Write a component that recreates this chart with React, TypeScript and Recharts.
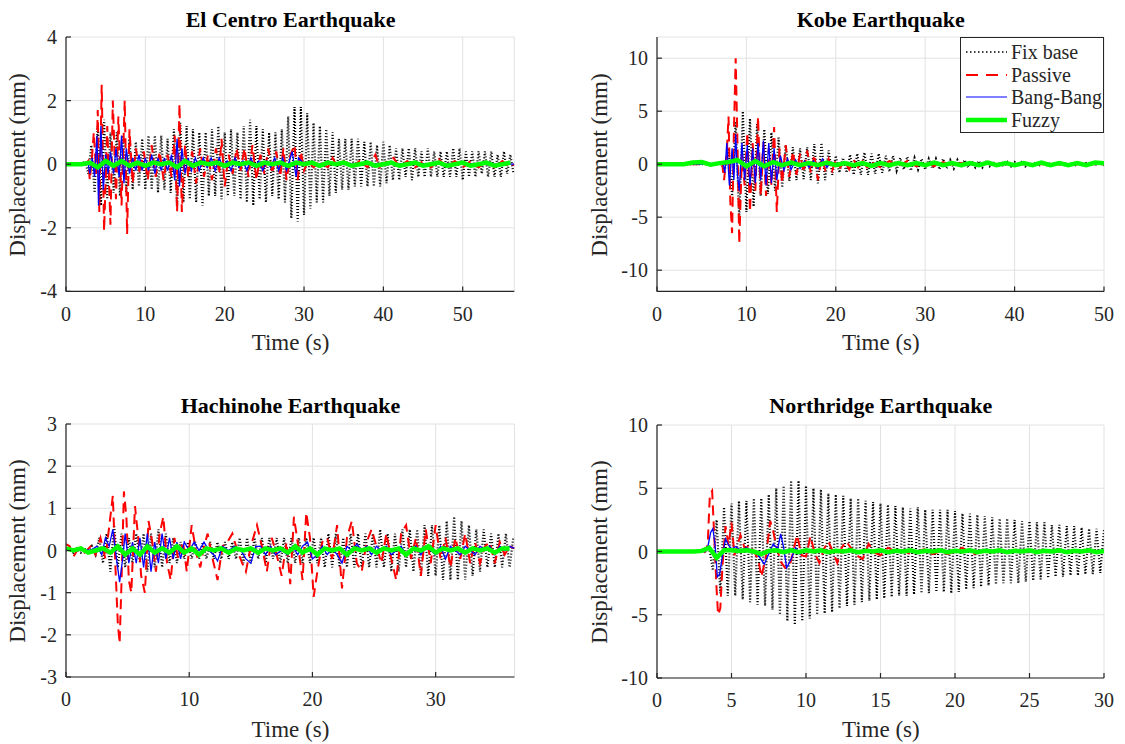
import { LineChart, Line, XAxis, YAxis, CartesianGrid } from 'recharts';

const FONT = '"Liberation Serif", "Times New Roman", Times, serif';
const AXIS = '#262626';
const GRID = '#e2e2e2';

type Pair = [number, number];
type Pt = { t: number; v: number };

// ---------- El Centro ----------
const elCentroXTicks = [0, 10, 20, 30, 40, 50];
const elCentroYTicks = [-4, -2, 0, 2, 4];
const elCentroDt = 0.4;
const elCentroFixBase = [
  0, 0, 0, 0, 0, 0, 0.1, -0.3, 0.6, -0.9,
  1.2, -1.3, 1.4, -1.1, 1.0, -0.9, 1.0, -1.0, 0.9, -0.9,
  0.8, -0.8, 0.7, -0.7, 0.8, -0.8, 0.9, -0.8, 0.9, -0.9,
  0.9, -0.8, 0.8, -0.9, 1.1, -1.3, 1.3, -1.2, 1.2, -1.1,
  1.1, -1.2, 1.0, -1.3, 1.0, -1.0, 1.1, -1.0, 1.2, -1.1,
  1.0, -1.0, 1.1, -1.0, 1.0, -1.1, 1.2, -1.2, 1.4, -1.3,
  1.2, -1.1, 1.1, -1.2, 1.0, -1.0, 1.0, -1.1, 1.1, -1.2,
  1.5, -1.7, 1.8, -1.8, 1.8, -1.6, 1.6, -1.4, 1.3, -1.2,
  1.2, -1.2, 1.1, -1.0, 1.0, -0.9, 0.8, -0.8, 0.8, -0.8,
  0.8, -0.7, 0.8, -0.7, 0.7, -0.7, 0.7, -0.7, 0.6, -0.7,
  0.7, -0.6, 0.6, -0.5, 0.5, -0.5, 0.5, -0.4, 0.5, -0.5,
  0.5, -0.4, 0.4, -0.4, 0.5, -0.4, 0.4, -0.4, 0.4, -0.4,
  0.4, -0.4, 0.5, -0.4, 0.5, -0.5, 0.4, -0.4, 0.4, -0.4,
  0.4, -0.3, 0.4, -0.4, 0.4, -0.4, 0.3, -0.4, 0.4, -0.3,
  0.3, -0.3,
];
const elCentroPassive: Pair[] = [
  [0, 0], [2.5, 0], [2.8, 0.1], [3.0, -0.5], [3.3, 0.3], [3.5, 1.0], [3.8, -0.3], [4.0, 1.7],
  [4.2, -1.5], [4.5, 2.5], [4.8, -2.1], [5.0, -0.5], [5.2, 1.2], [5.6, -1.9], [5.9, 2.0],
  [6.3, -1.1], [6.6, 1.5], [7.0, -1.3], [7.4, 2.0], [7.7, -2.2], [8.0, 1.1], [8.4, -0.6],
  [8.8, 0.5], [9.3, -0.3], [9.8, 0.4], [10.3, -0.5], [10.8, 0.6], [11.3, -0.4], [11.8, 0.4],
  [12.3, -0.5], [12.8, 0.3], [13.3, -0.4], [13.7, 0.9], [14.0, -1.5], [14.3, 1.9], [14.6, -1.5],
  [15.0, 0.6], [15.4, -0.4], [15.9, 0.4], [16.4, -0.6], [16.9, 0.5], [17.4, -0.4], [17.9, 0.3],
  [18.4, -0.5], [18.9, 0.5], [19.3, -0.3], [19.6, 0.8], [20.0, -0.7], [20.5, 0.3], [21.0, -0.3],
  [21.5, 0.5], [22.0, -0.2], [22.5, 0.5], [23.0, -0.4], [23.5, 0.6], [24.0, -0.5], [24.5, 0.3],
  [25.0, -0.3], [25.5, 0.5], [26.0, -0.3], [26.5, 0.4], [27.0, -0.4], [27.4, 0.5], [27.8, -0.5],
  [28.3, 0.3], [28.8, 0.6], [29.2, -0.5], [29.6, 0.4], [30.0, -0.2], [30.5, 0.1], [31.2, -0.1],
  [32, 0.1], [33, -0.1], [33.6, 0.2], [34.2, -0.1], [35, 0.1], [36, -0.1], [37, 0.1], [38, -0.1],
  [39, 0.3], [39.5, -0.1], [40.5, 0.1], [41.3, 0.2], [42, -0.1], [43, 0.1], [44, -0.1], [45, 0.1],
  [46, -0.1], [47, 0.15], [48, -0.1], [49, 0.1], [50, -0.1], [51, 0.1], [52, -0.1], [53, 0.1],
  [54, -0.1], [55, 0.1], [56, -0.1], [56.5, 0],
];
const elCentroBangBang: Pair[] = [
  [0, 0], [2.8, 0], [3.0, -0.3], [3.3, 0.2], [3.6, -0.4], [3.9, 0.9], [4.1, -1.3], [4.4, 1.2],
  [4.7, -0.8], [5.0, 0.3], [5.3, -0.3], [5.6, 0.4], [6.0, -0.3], [6.3, 0.5], [6.7, -0.4], [7.0, 0.9],
  [7.3, -0.6], [7.6, 0.5], [8.0, -0.3], [8.4, 0.2], [8.8, -0.2], [9.2, 0.3], [9.6, -0.2], [10.0, 0.2],
  [10.4, -0.2], [10.8, 0.3], [11.2, -0.3], [11.6, 0.2], [12.0, -0.2], [12.4, 0.2], [12.8, -0.2],
  [13.3, 0.3], [13.7, -0.5], [14.0, 0.8], [14.3, -0.7], [14.6, 0.5], [15.0, -0.3], [15.4, 0.2],
  [15.8, -0.2], [16.3, 0.2], [16.8, -0.2], [17.3, 0.2], [17.8, -0.1], [18.3, 0.2], [18.8, -0.2],
  [19.3, 0.2], [19.8, -0.1], [20.3, 0.1], [20.8, -0.2], [21.3, 0.2], [21.8, -0.1], [22.3, 0.1],
  [22.8, -0.2], [23.3, 0.2], [23.8, -0.1], [24.3, 0.1], [24.8, -0.2], [25.3, 0.1], [25.8, -0.1],
  [26.3, 0.2], [26.8, -0.2], [27.3, 0.2], [27.8, -0.2], [28.5, 0.4], [29.0, -0.4], [29.3, 0.2],
  [30, 0], [31, 0.05], [32, 0], [56.5, 0],
];
const elCentroFuzzyDt = 1;
const elCentroFuzzy = [
  0, 0, 0, 0.05, -0.1, 0.1, -0.05, 0.1, -0.05, 0.05,
  -0.05, 0.05, 0, 0.05, -0.1, 0.1, -0.05, 0.05, 0, 0.05,
  -0.05, 0.05, 0, 0.05, -0.05, 0.05, 0, 0.05, -0.05, 0.05,
  0, 0.05, -0.05, 0.05, 0, 0.05, -0.05, 0, 0.05, -0.05,
  0, 0.05, -0.05, 0, 0.05, -0.05, 0, 0.05, -0.05, 0,
  0.05, -0.05, 0, 0.05, -0.05, 0, 0.05,
];

// ---------- Kobe ----------
const kobeXTicks = [0, 10, 20, 30, 40, 50];
const kobeYTicks = [-10, -5, 0, 5, 10];
const kobeDt = 0.4;
const kobeFixBase = [
  0, 0, 0, 0, 0, 0, 0, 0, 0, 0, 0, 0, 0, 0, 0, 0, 0, 0, 0,
  -0.5, 1.5, -3.0, 4.0, -5.3, 5.0, -4.5, 4.3, -4.0, 3.8,
  -3.0, 3.3, -2.8, 3.0, -2.5, 2.5, -2.2, 1.8, -1.6, 1.6,
  -1.5, 1.5, -1.4, 1.6, -1.5, 1.9, -1.8, 2.0, -1.5, 1.3,
  -1.0, 0.8, -0.8, 0.6, -0.8, 0.9, -1.0, 1.0, -1.0, 1.1,
  -1.0, 1.0, -0.9, 1.0, -0.8, 0.8, -0.7, 0.8, -0.6, 0.6,
  -0.5, 0.7, -0.6, 0.6, -0.5, 0.5, -0.5, 0.5, -0.4, 0.5,
  -0.5, 0.5, -0.4, 0.4, -0.4, 0.4, -0.3, 0.4, -0.3, 0.3,
  -0.3, 0.3, -0.3, 0.2, -0.2, 0.2, -0.2, 0.2, -0.2, 0.2,
  -0.2, 0.2, -0.1, 0.2, -0.2, 0.1, -0.1, 0.2, -0.1, 0.1,
  -0.1, 0.1, -0.1, 0.1, -0.1, 0.1, -0.1, 0.1, -0.1, 0.1,
  -0.1, 0.1, -0.1, 0.1, -0.1, 0.1, -0.1,
];
const kobePassive: Pair[] = [
  [0, 0], [7.3, 0], [7.5, -1.5], [7.8, 1.0], [8.0, 4.5], [8.2, -3.5], [8.4, -6.5], [8.6, 3.0],
  [8.8, 10.0], [9.0, 2.0], [9.2, -7.5], [9.5, 1.0], [9.8, -2.0], [10.1, 3.0], [10.4, -4.5],
  [10.7, 2.0], [11.0, -2.5], [11.3, 4.5], [11.6, -3.0], [11.9, 2.0], [12.2, -3.0], [12.5, 1.5],
  [12.8, -2.0], [13.1, 3.5], [13.4, -4.5], [13.7, 1.5], [14.0, -1.8], [14.4, 1.8], [14.8, -1.2],
  [15.2, 1.2], [15.6, -1.0], [16.0, 1.0], [16.4, -0.8], [16.8, 1.3], [17.2, -0.8], [17.6, 0.9],
  [18.0, -1.5], [18.4, 0.6], [18.8, -0.5], [19.2, 0.5], [19.6, -0.6], [20.0, 0.4], [20.5, -0.3],
  [21.0, 0.3], [21.5, -0.5], [22.0, 0.4], [22.5, -0.3], [23.0, 0.3], [23.5, -0.3], [24.0, 0.2],
  [25, -0.3], [26, 0.3], [27, -0.2], [28, 0.3], [29, -0.2], [30, 0.2], [31, -0.2], [32, 0.2],
  [33, -0.1], [34, 0.1], [35, 0], [50, 0],
];
const kobeBangBang: Pair[] = [
  [0, 0], [7.4, 0], [7.6, -0.8], [7.8, 2.0], [8.1, -2.0], [8.4, 1.5], [8.6, -1.5], [8.8, 2.8],
  [9.0, -1.0], [9.2, -2.5], [9.5, 2.0], [9.8, -1.5], [10.1, 1.8], [10.4, -2.0], [10.7, 1.5],
  [11.0, -1.8], [11.3, 2.0], [11.6, -1.5], [11.9, 2.2], [12.2, -2.0], [12.5, 2.0], [12.8, -1.8],
  [13.1, 1.5], [13.4, -1.5], [13.8, 0.8], [14.2, -0.6], [14.6, 0.5], [15.0, -0.5], [15.5, 0.4],
  [16, -0.4], [16.5, 0.3], [17, -0.3], [17.5, 0.3], [18, -0.4], [18.5, 0.5], [19, -0.3],
  [19.5, 0.2], [20, 0], [50, 0],
];
const kobeFuzzyDt = 1;
const kobeFuzzy = [
  0, 0, 0, 0, 0.15, 0.2, -0.05, 0.1, 0.2, 0.4,
  -0.2, 0.3, -0.2, 0.2, -0.1, 0.15, -0.1, 0.1, -0.1, 0.15,
  -0.1, 0.1, -0.1, 0.1, -0.15, 0.1, -0.1, 0.1, -0.1, 0.1,
  -0.1, 0.15, -0.1, 0.1, -0.1, 0.1, -0.1, 0.15, -0.1, 0.1,
  -0.1, 0.1, -0.1, 0.15, -0.1, 0.1, -0.1, 0.1, -0.1, 0.15,
  0.1,
];

// ---------- Hachinohe ----------
const hachinoheXTicks = [0, 10, 20, 30];
const hachinoheYTicks = [-3, -2, -1, 0, 1, 2, 3];
const hachinoheDt = 0.3;
const hachinoheFixBase = [
  0, 0.05, -0.05, 0.05, -0.05, 0.05, -0.05,
  0.1, -0.1, 0.3, -0.3, 0.4, -0.5, 0.6, -0.4, 0.4, -0.4,
  0.3, -0.3, 0.4, -0.3, 0.4, -0.5, 0.4, -0.4, 0.5, -0.4,
  0.4, -0.3, 0.3, -0.3, 0.2, -0.2, 0.2, -0.2, 0.2, -0.2,
  0.2, -0.2, 0.2, -0.2, 0.2, -0.2, 0.2, -0.2, 0.2, -0.2,
  0.3, -0.3, 0.3, -0.3, 0.3, -0.2, 0.3, -0.3, 0.3, -0.2,
  0.3, -0.3, 0.3, -0.3, 0.3, -0.3, 0.3, -0.3, 0.3, -0.3,
  0.3, -0.3, 0.3, -0.4, 0.4, -0.4, 0.4, -0.4, 0.3, -0.4,
  0.4, -0.4, 0.4, -0.4, 0.4, -0.4, 0.4, -0.4, 0.5, -0.4,
  0.4, -0.5, 0.4, -0.5, 0.5, -0.4, 0.5, -0.5, 0.5, -0.6,
  0.6, -0.6, 0.6, -0.6, 0.6, -0.7, 0.7, -0.7, 0.8, -0.7,
  0.7, -0.7, 0.6, -0.6, 0.5, -0.5, 0.5, -0.4, 0.4, -0.4,
  0.4, -0.4, 0.4, -0.4, 0.3,
];
const hachinohePassive: Pair[] = [
  [0, 0.15], [0.3, 0.1], [0.6, -0.15], [1, 0.05], [1.5, -0.05], [2, 0.1], [2.4, -0.1], [2.8, 0.3],
  [3.2, -0.2], [3.6, 0.8], [3.8, 1.3], [4.0, -0.3], [4.2, -1.7], [4.35, -2.2], [4.5, -0.8],
  [4.7, 1.4], [4.9, 0.8], [5.1, -0.7], [5.3, -1.0], [5.6, 1.05], [5.9, 0.2], [6.1, -0.6],
  [6.4, -1.0], [6.7, 0.7], [7.0, 0.2], [7.3, -0.5], [7.6, 0.4], [7.9, 0.8], [8.2, -0.3],
  [8.5, -0.7], [8.8, 0.3], [9.1, -0.2], [9.5, 0.2], [9.8, -0.5], [10.2, 0.6], [10.6, -0.1],
  [10.9, -0.4], [11.2, 0.1], [11.5, 0.4], [11.9, -0.2], [12.3, -0.7], [12.7, 0.1], [13.1, 0.2],
  [13.5, 0.4], [13.9, 0.0], [14.3, -0.3], [14.6, -0.5], [15.0, 0.1], [15.5, 0.6], [15.9, 0.1],
  [16.3, -0.5], [16.7, 0.3], [17.1, -0.1], [17.5, -0.6], [17.9, 0.2], [18.2, -0.8], [18.5, 0.8],
  [18.8, 0.2], [19.2, -0.7], [19.5, 0.9], [19.8, 0.3], [20.1, -1.1], [20.4, -0.5], [20.8, 0.2],
  [21.2, 0.3], [21.6, -0.2], [22.0, 0.6], [22.4, -0.9], [22.8, 0.3], [23.2, 0.7], [23.6, -0.3],
  [24.0, -0.5], [24.4, 0.2], [24.8, 0.5], [25.2, 0.1], [25.6, -0.3], [26.0, 0.4], [26.4, -0.2],
  [26.8, -0.7], [27.2, 0.4], [27.6, 0.6], [28.0, -0.2], [28.4, 0.3], [28.8, -0.6], [29.2, 0.5],
  [29.6, -0.3], [30.0, 0.6], [30.4, -0.2], [30.8, 0.3], [31.2, -0.4], [31.6, 0.3], [32.0, -0.2],
  [32.4, 0.4], [32.8, -0.3], [33.2, 0.2], [33.6, -0.3], [34.0, 0.1], [34.4, 0.2], [34.8, -0.3],
  [35.2, 0.2], [35.6, -0.1], [36.0, 0.1], [36.4, 0.05],
];
const hachinoheBangBang: Pair[] = [
  [0, 0], [1, 0.05], [2, 0], [2.5, 0.1], [2.9, -0.1], [3.2, 0.3], [3.5, 0.1], [3.8, 0.5],
  [4.1, -0.2], [4.35, -0.75], [4.6, -0.2], [4.8, 0.4], [5.1, -0.3], [5.4, 0.2], [5.7, -0.3],
  [6.0, 0.3], [6.3, -0.4], [6.6, 0.4], [6.9, -0.5], [7.2, 0.2], [7.5, -0.3], [7.8, 0.4],
  [8.1, -0.2], [8.4, 0.3], [8.7, -0.2], [9.0, 0.2], [9.3, -0.2], [9.6, 0.2], [10, 0.0],
  [10.4, 0.2], [10.8, 0.0], [11.2, 0.2], [11.6, 0.0], [12.0, -0.1], [12.3, -0.25], [12.7, 0.1],
  [13.2, 0.0], [13.7, 0.1], [14.2, 0.0], [14.6, -0.2], [15.0, -0.3], [15.4, 0.1], [15.8, 0.1],
  [16.2, -0.1], [16.6, 0.1], [17.0, -0.1], [17.5, 0.0], [18.0, -0.1], [18.4, 0.1], [18.8, -0.1],
  [19.2, 0.1], [19.6, 0.2], [20.0, -0.2], [20.4, -0.1], [20.8, 0.1], [21.2, -0.1], [21.6, 0.05],
  [22.0, -0.1], [22.4, -0.3], [22.8, 0.1], [23.2, 0.0], [23.6, 0.15], [24.0, 0.0], [24.4, 0.1],
  [24.8, -0.1], [25.2, 0.1], [25.6, 0.0], [26.0, 0.1], [26.4, -0.1], [26.8, 0.0], [27.2, 0.1],
  [27.6, -0.1], [28.0, 0.0], [28.4, 0.1], [28.8, -0.1], [29.2, 0.1], [29.6, 0.0], [30.0, -0.1],
  [30.4, 0.1], [30.8, -0.2], [31.2, 0.1], [31.6, 0.0], [32.0, -0.1], [32.4, 0.1], [32.8, 0.0],
  [33.2, -0.1], [33.6, 0.1], [34.0, 0.0], [34.4, 0.1], [34.8, -0.1], [35.2, 0.1], [35.6, 0.0],
  [36.0, 0.1], [36.4, 0.05],
];
const hachinoheFuzzyDt = 0.6;
const hachinoheFuzzy = [
  0.05, 0, 0.05, -0.05, 0, 0.05, -0.05, 0.1, -0.1, 0.05,
  -0.1, 0.1, -0.05, 0.05, -0.05, 0.1, -0.05, 0.05, -0.1, 0.05,
  0, 0.05, -0.05, 0.05, 0, 0.05, -0.05, 0.05, 0, 0.05,
  -0.05, 0.1, -0.05, 0.05, -0.1, 0.05, 0, 0.05, -0.1, 0.05,
  0, 0.05, -0.05, 0.05, 0, 0.05, -0.1, 0.05, 0, 0.1,
  -0.05, 0.05, 0, 0.05, -0.05, 0.05, 0, 0.05, -0.05, 0.05,
  0.05,
];

// ---------- Northridge ----------
const northridgeXTicks = [0, 5, 10, 15, 20, 25, 30];
const northridgeYTicks = [-10, -5, 0, 5, 10];
const northridgeDt = 0.25;
const northridgeFixBase = [
  0, 0, 0, 0, 0, 0, 0, 0, 0, 0, 0, 0, 0, 0,
  0.3, -1.5, 2.5, -3.3, 3.5, -3.5, 3.8, -3.5, 4.0, -3.8,
  4.0, -4.0, 4.2, -4.2, 4.2, -4.3, 4.5, -4.6, 5.0, -5.0,
  5.2, -5.5, 5.6, -5.8, 5.6, -5.5, 5.2, -5.3, 5.0, -5.0,
  4.9, -4.9, 4.6, -4.8, 4.5, -4.5, 4.4, -4.3, 4.2, -4.2,
  4.2, -4.0, 4.0, -3.9, 3.9, -3.8, 3.8, -3.7, 3.7, -3.6,
  3.6, -3.5, 3.5, -3.5, 3.4, -3.4, 3.5, -3.3, 3.3, -3.3,
  3.3, -3.2, 3.3, -3.2, 3.3, -3.3, 3.2, -3.2, 3.0, -3.0,
  3.0, -2.9, 2.9, -2.8, 2.8, -2.7, 2.7, -2.6, 2.6, -2.5,
  2.6, -2.5, 2.5, -2.5, 2.4, -2.4, 2.4, -2.3, 2.3, -2.2,
  2.3, -2.1, 2.1, -2.0, 2.1, -2.0, 2.0, -1.9, 2.0, -1.9,
  1.9, -1.8, 1.8, -1.8, 1.8, -1.7, 1.7,
];
const northridgePassive: Pair[] = [
  [0, 0], [2.8, 0], [3.0, 0.3], [3.2, 0], [3.4, 0.5], [3.55, 4.5], [3.7, 4.8], [3.85, 1.0],
  [4.0, -3.0], [4.1, -5.0], [4.25, -4.5], [4.4, -1.0], [4.6, 2.0], [4.8, 0.5], [5.0, 2.3],
  [5.2, -0.3], [5.4, 0.5], [5.6, 1.3], [5.9, 0.2], [6.2, 0.5], [6.5, 0.0], [6.8, -0.6],
  [7.0, -2.0], [7.3, -0.5], [7.6, 2.4], [7.8, 1.6], [8.0, 0.5], [8.3, -0.8], [8.6, -1.3],
  [8.9, -1.2], [9.2, 0.3], [9.4, 1.3], [9.7, -0.3], [10.0, -0.4], [10.3, 1.2], [10.6, -0.2],
  [10.9, -0.9], [11.2, 0.2], [11.5, 0.8], [11.8, 0.0], [12.1, -0.9], [12.4, 0.3], [12.7, 0.8],
  [13.0, 0.3], [13.4, -0.3], [13.8, -0.6], [14.2, 0.6], [14.6, -0.1], [15.0, -0.3], [15.5, 0.3],
  [16.0, 0.0], [16.5, 0.1], [17, -0.2], [17.5, 0.0], [18, 0.2], [18.5, -0.2], [19, 0.0],
  [19.5, -0.2], [20, 0.0], [20.5, 0.3], [20.8, 0.0], [21.2, -0.2], [22, 0.0], [23, 0.05],
  [24, 0.0], [30, 0.0],
];
const northridgeBangBang: Pair[] = [
  [0, 0], [3.2, 0], [3.4, 0.3], [3.6, 1.5], [3.75, 1.8], [3.9, 0.5], [4.05, -2.0], [4.2, -1.8],
  [4.4, -0.3], [4.6, 1.0], [4.8, 0.5], [5.0, 0.2], [5.3, 0.4], [5.6, 0.1], [6.0, 0.3], [6.4, 0.0],
  [6.8, -0.3], [7.2, -1.0], [7.5, -0.2], [7.8, 0.6], [8.1, 0.2], [8.3, 1.4], [8.5, 0.3],
  [8.7, -1.3], [9.0, -0.6], [9.3, 0.3], [9.6, -0.2], [10, 0.2], [10.5, -0.1], [11, 0.1],
  [11.5, 0], [12, 0.1], [12.5, -0.1], [13, 0.1], [13.5, 0], [14, 0.1], [15, -0.05], [16, 0],
  [30, 0],
];
const northridgeFuzzyDt = 0.5;
const northridgeFuzzy = [
  0, 0, 0, 0, 0, 0, 0.05, 0.3, -0.5, 0.1,
  0.1, 0.05, 0.1, 0, -0.2, 0.05, 0.1, -0.05, 0.1, -0.05,
  0.1, 0, 0.1, -0.05, 0.05, 0, 0.1, -0.05, 0.05, 0,
  0.1, -0.05, 0.05, 0, 0.1, -0.05, 0.05, 0, 0.1, -0.05,
  0.05, 0, 0.1, -0.05, 0.05, 0, 0.1, -0.05, 0.05, 0,
  0.1, -0.05, 0.05, 0, 0.1, -0.05, 0.05, 0, 0.1, -0.05,
  0.05,
];

const steps = (values: number[], dt: number): Pt[] =>
  values.map((v, i) => ({ t: Math.round(i * dt * 1000) / 1000, v }));
const pairs = (list: Pair[]): Pt[] => list.map(([t, v]) => ({ t, v }));

const legendItems = [
  { name: 'Fix base', color: '#000000', dash: '1.5 2.5', width: 1.5 },
  { name: 'Passive', color: '#ff0000', dash: '12 8', width: 1.8 },
  { name: 'Bang-Bang', color: '#0000ff', dash: undefined, width: 1.2 },
  { name: 'Fuzzy', color: '#00ff00', dash: undefined, width: 4.5 },
];

interface PanelProps {
  title: string;
  plot: { x: number; y: number; w: number; h: number };
  xMax: number;
  yDomain: [number, number];
  xTicks: number[];
  yTicks: number[];
  fixBase: Pt[];
  passive: Pt[];
  bangBang: Pt[];
  fuzzy: Pt[];
  yLabelX: number;
  xLabelY: number;
  titleBaseline: number;
}

const PAD_L = 60;
const PAD_T = 10;
const PAD_R = 10;
const PAD_B = 40;

function Panel(p: PanelProps) {
  const tickStyle = { fill: AXIS, fontSize: 20, fontFamily: 'Liberation Serif' };
  const cx = p.plot.x + p.plot.w / 2;
  return (
    <>
      <div style={{ position: 'absolute', left: p.plot.x - PAD_L, top: p.plot.y - PAD_T, fontFamily: FONT }}>
        <LineChart
          width={p.plot.w + PAD_L + PAD_R}
          height={p.plot.h + PAD_T + PAD_B}
          margin={{ top: PAD_T, right: PAD_R, bottom: 0, left: 0 }}
          style={{ fontFamily: FONT }}
        >
          <CartesianGrid xAxisId="b" yAxisId="l" stroke={GRID} />
          <XAxis
            xAxisId="b"
            type="number"
            dataKey="t"
            domain={[0, p.xMax]}
            ticks={p.xTicks}
            interval={0}
            allowDataOverflow
            height={PAD_B}
            tickSize={-5}
            tickMargin={20}
            stroke={AXIS}
            strokeWidth={1.2}
            tick={tickStyle}
          />
          <XAxis
            xAxisId="top"
            orientation="top"
            type="number"
            dataKey="t"
            domain={[0, p.xMax]}
            ticks={p.xTicks}
            interval={0}
            allowDataOverflow
            height={0}
            tickSize={-5}
            tick={false}
            stroke={AXIS}
            strokeWidth={1.2}
          />
          <YAxis
            yAxisId="l"
            type="number"
            domain={p.yDomain}
            ticks={p.yTicks}
            interval={0}
            allowDataOverflow
            width={PAD_L}
            tickSize={-5}
            tickMargin={14}
            stroke={AXIS}
            strokeWidth={1.2}
            tick={tickStyle}
          />
          <YAxis
            yAxisId="r"
            orientation="right"
            type="number"
            domain={p.yDomain}
            ticks={p.yTicks}
            interval={0}
            allowDataOverflow
            width={0}
            tickSize={-5}
            tick={false}
            stroke={AXIS}
            strokeWidth={1.2}
          />
          <Line xAxisId="b" yAxisId="l" data={p.fixBase} dataKey="v" type="linear" stroke="#000000"
            strokeWidth={2.2} strokeDasharray="1 2" dot={false} activeDot={false} isAnimationActive={false} />
          <Line xAxisId="b" yAxisId="l" data={p.passive} dataKey="v" type="linear" stroke="#ff0000"
            strokeWidth={2} strokeDasharray="10 6" dot={false} activeDot={false} isAnimationActive={false} />
          <Line xAxisId="b" yAxisId="l" data={p.bangBang} dataKey="v" type="linear" stroke="#0000ff"
            strokeWidth={1.3} dot={false} activeDot={false} isAnimationActive={false} />
          <Line xAxisId="b" yAxisId="l" data={p.fuzzy} dataKey="v" type="linear" stroke="#00ff00"
            strokeWidth={4.5} dot={false} activeDot={false} isAnimationActive={false} />
        </LineChart>
      </div>
      <div
        style={{
          position: 'absolute',
          left: cx,
          top: p.titleBaseline - 18.4,
          transform: 'translateX(-50%)',
          fontFamily: FONT,
          fontWeight: 'bold',
          fontSize: 22,
          lineHeight: '22px',
          whiteSpace: 'nowrap',
          color: '#000',
        }}
      >
        {p.title}
      </div>
      <div
        style={{
          position: 'absolute',
          left: p.yLabelX,
          top: p.plot.y + p.plot.h / 2,
          transform: 'translate(-50%, -50%) rotate(-90deg)',
          fontFamily: FONT,
          fontSize: 23,
          lineHeight: '23px',
          whiteSpace: 'nowrap',
          color: AXIS,
        }}
      >
        Displacement (mm)
      </div>
      <div
        style={{
          position: 'absolute',
          left: cx,
          top: p.xLabelY + 1.5,
          transform: 'translate(-50%, -50%)',
          fontFamily: FONT,
          fontSize: 23,
          lineHeight: '23px',
          whiteSpace: 'nowrap',
          color: AXIS,
        }}
      >
        Time (s)
      </div>
    </>
  );
}

function LegendBox() {
  return (
    <div
      style={{
        position: 'absolute',
        left: 960,
        top: 37.3,
        width: 144.3,
        height: 96,
        boxSizing: 'border-box',
        border: `1.2px solid ${AXIS}`,
        background: '#fff',
        paddingTop: 3,
      }}
    >
      {legendItems.map((item) => (
        <div key={item.name} style={{ display: 'flex', alignItems: 'center', height: 22.4 }}>
          <svg width={50} height={10} style={{ flex: 'none' }}>
            <line x1={5} x2={46} y1={5} y2={5} stroke={item.color} strokeWidth={item.width}
              strokeDasharray={item.dash} />
          </svg>
          <span style={{ fontFamily: FONT, fontSize: 20, lineHeight: '20px', color: AXIS, whiteSpace: 'nowrap' }}>
            {item.name}
          </span>
        </div>
      ))}
    </div>
  );
}

export default function App() {
  return (
    <div
      style={{
        position: 'absolute',
        left: 0,
        top: 0,
        width: 1125,
        height: 744,
        background: '#fff',
        overflow: 'hidden',
        fontFamily: FONT,
      }}
    >
      <Panel
        title="El Centro Earthquake"
        plot={{ x: 66.4, y: 37.3, w: 448.3, h: 254.4 }}
        xMax={56.5}
        yDomain={[-4, 4]}
        xTicks={elCentroXTicks}
        yTicks={elCentroYTicks}
        fixBase={steps(elCentroFixBase, elCentroDt)}
        passive={pairs(elCentroPassive)}
        bangBang={pairs(elCentroBangBang)}
        fuzzy={steps(elCentroFuzzy, elCentroFuzzyDt)}
        yLabelX={16.5}
        xLabelY={340.5}
        titleBaseline={27}
      />
      <Panel
        title="Kobe Earthquake"
        plot={{ x: 657.3, y: 37.3, w: 447, h: 254.4 }}
        xMax={50}
        yDomain={[-12, 12]}
        xTicks={kobeXTicks}
        yTicks={kobeYTicks}
        fixBase={steps(kobeFixBase, kobeDt)}
        passive={pairs(kobePassive)}
        bangBang={pairs(kobeBangBang)}
        fuzzy={steps(kobeFuzzy, kobeFuzzyDt)}
        yLabelX={599}
        xLabelY={340.5}
        titleBaseline={27}
      />
      <LegendBox />
      <Panel
        title="Hachinohe Earthquake"
        plot={{ x: 66.2, y: 424, w: 448.5, h: 253 }}
        xMax={36.4}
        yDomain={[-3, 3]}
        xTicks={hachinoheXTicks}
        yTicks={hachinoheYTicks}
        fixBase={steps(hachinoheFixBase, hachinoheDt)}
        passive={pairs(hachinohePassive)}
        bangBang={pairs(hachinoheBangBang)}
        fuzzy={steps(hachinoheFuzzy, hachinoheFuzzyDt)}
        yLabelX={16.5}
        xLabelY={727.5}
        titleBaseline={413}
      />
      <Panel
        title="Northridge Earthquake"
        plot={{ x: 657.3, y: 425, w: 447, h: 253 }}
        xMax={30}
        yDomain={[-10, 10]}
        xTicks={northridgeXTicks}
        yTicks={northridgeYTicks}
        fixBase={steps(northridgeFixBase, northridgeDt)}
        passive={pairs(northridgePassive)}
        bangBang={pairs(northridgeBangBang)}
        fuzzy={steps(northridgeFuzzy, northridgeFuzzyDt)}
        yLabelX={599}
        xLabelY={727.5}
        titleBaseline={413}
      />
    </div>
  );
}
